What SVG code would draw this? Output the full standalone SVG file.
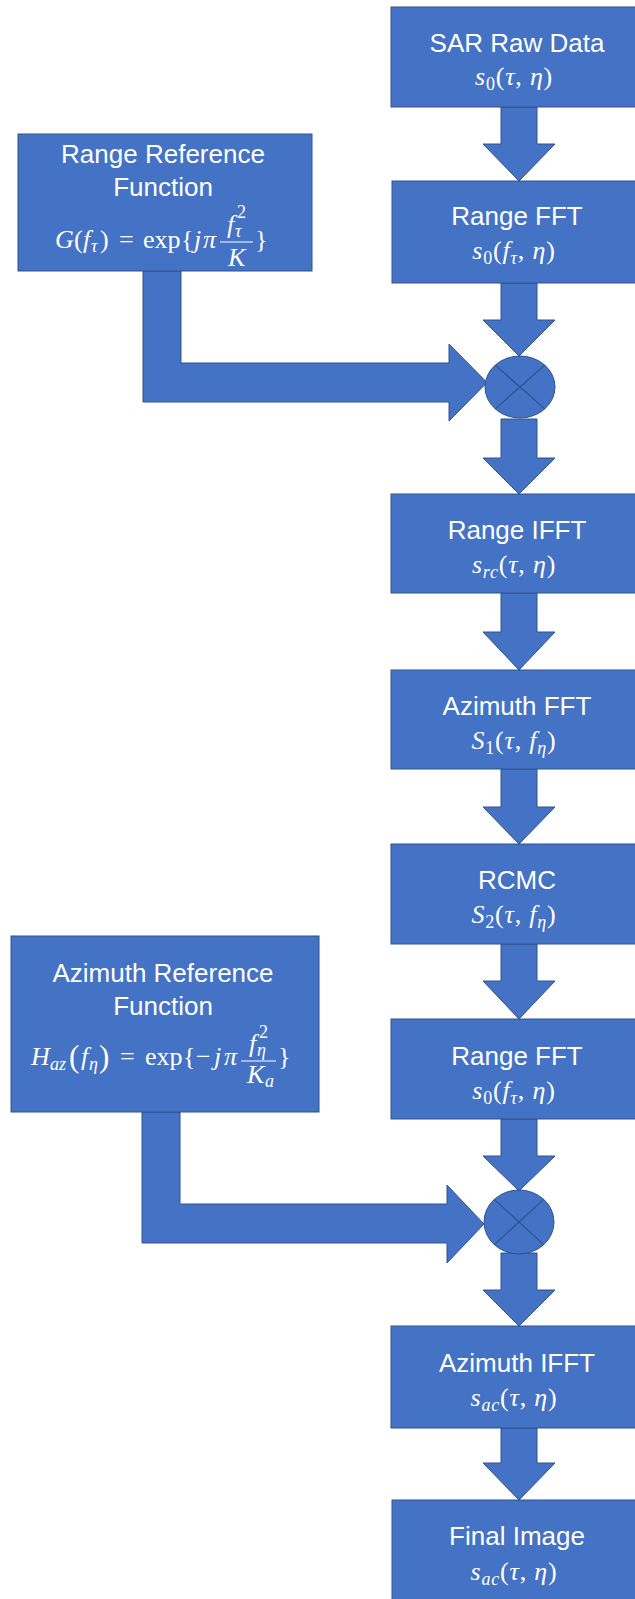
<svg xmlns="http://www.w3.org/2000/svg" width="635" height="1599" viewBox="0 0 635 1599">
  <style>
    .box { fill: #4472C4; stroke: #2F528F; stroke-width: 1; }
    .arrow { fill: #4472C4; stroke: #2F528F; stroke-width: 1; stroke-linejoin: miter; }
    .mix { fill: #4472C4; stroke: #2F528F; stroke-width: 1; }
    .cross { stroke: #2F528F; stroke-width: 1.2; }
    .title { font-family: "Liberation Sans", Arial, sans-serif; font-size: 26px; fill: #FFFFFF; text-anchor: middle; }
    .math { font-family: "Liberation Serif", "Times New Roman", serif; font-size: 26px; letter-spacing: 0.8px; fill: #FFFFFF; text-anchor: middle; }
    .eq { font-family: "Liberation Serif", "Times New Roman", serif; font-size: 26px; fill: #FFFFFF; }
    .it { font-style: italic; }
    .sub { font-size: 18px; }
    .big { font-size: 31px; }
    .bar { stroke: #FFFFFF; stroke-width: 1.2; }
  </style>

  <!-- connectors -->
  <g id="connectors">
    <path class="arrow" d="M501,107 L537,107 L537,144 L555,144 L519,181 L483,144 L501,144 Z"/>
    <path class="arrow" d="M501,283 L537,283 L537,320 L555,320 L519,356 L483,320 L501,320 Z"/>
    <path class="arrow" d="M501,419 L537,419 L537,458 L555,458 L519,494 L483,458 L501,458 Z"/>
    <path class="arrow" d="M501,593 L537,593 L537,632 L555,632 L519,670 L483,632 L501,632 Z"/>
    <path class="arrow" d="M501,769 L537,769 L537,807 L555,807 L519,844 L483,807 L501,807 Z"/>
    <path class="arrow" d="M501,944 L537,944 L537,981 L555,981 L519,1019 L483,981 L501,981 Z"/>
    <path class="arrow" d="M501,1119 L537,1119 L537,1156 L555,1156 L519,1191 L483,1156 L501,1156 Z"/>
    <path class="arrow" d="M501,1253 L537,1253 L537,1290 L555,1290 L519,1326 L483,1290 L501,1290 Z"/>
    <path class="arrow" d="M501,1428 L537,1428 L537,1463 L555,1463 L519,1500 L483,1463 L501,1463 Z"/>
    <!-- reference-function feeds into the mixers -->
    <path class="arrow" d="M143,271 L181,271 L181,363 L449,363 L449,344 L487,382.5 L449,421 L449,402 L143,402 Z"/>
    <path class="arrow" d="M142,1112 L180,1112 L180,1204 L447,1204 L447,1185 L484,1224 L447,1263 L447,1243 L142,1243 Z"/>
  </g>

  <!-- mixers -->
  <g id="mixer1">
    <ellipse class="mix" cx="520" cy="387" rx="35" ry="31"/>
    <line class="cross" x1="495.3" y1="365.1" x2="544.7" y2="408.9"/>
    <line class="cross" x1="544.7" y1="365.1" x2="495.3" y2="408.9"/>
  </g>
  <g id="mixer2">
    <ellipse class="mix" cx="519" cy="1222" rx="35" ry="32"/>
    <line class="cross" x1="494.3" y1="1199.4" x2="543.7" y2="1244.6"/>
    <line class="cross" x1="543.7" y1="1199.4" x2="494.3" y2="1244.6"/>
  </g>

  <!-- processing steps -->
  <g id="sar-raw-data">
    <rect class="box" x="391" y="7" width="252" height="100"/>
    <text class="title" x="517" y="52">SAR Raw Data</text>
    <text class="math" x="514" y="85"><tspan class="it">s</tspan><tspan class="sub" dy="5">0</tspan><tspan dy="-5">(</tspan><tspan class="it">τ</tspan>, <tspan class="it">η</tspan>)</text>
  </g>

  <g id="range-fft">
    <rect class="box" x="392" y="181" width="252" height="102"/>
    <text class="title" x="517" y="225">Range FFT</text>
    <text class="math" x="514" y="259"><tspan class="it">s</tspan><tspan class="sub" dy="5">0</tspan><tspan dy="-5">(</tspan><tspan class="it">f</tspan><tspan class="sub it" dy="5">τ</tspan><tspan dy="-5">, </tspan><tspan class="it">η</tspan>)</text>
  </g>

  <g id="range-reference">
    <rect class="box" x="18" y="134" width="294" height="137"/>
    <text class="title" x="163" y="163">Range Reference</text>
    <text class="title" x="163" y="196">Function</text>
    <text class="eq" y="248"><tspan class="it" x="55">G</tspan><tspan x="74">(</tspan><tspan class="it" x="83">f</tspan><tspan class="sub it" x="91" y="252">τ</tspan><tspan x="100" y="248">)</tspan><tspan x="119">=</tspan><tspan x="143">exp</tspan><tspan x="181">{</tspan><tspan class="it" x="194">j</tspan><tspan class="it" x="203">π</tspan></text>
    <text class="eq" y="233"><tspan class="it" x="227">f</tspan><tspan class="sub it" x="235" y="237">τ</tspan><tspan class="sub" x="237" y="218">2</tspan></text>
    <line class="bar" x1="220" y1="242" x2="253" y2="242"/>
    <text class="eq it" x="228" y="266">K</text>
    <text class="eq" x="255" y="248">}</text>
  </g>

  <g id="range-ifft">
    <rect class="box" x="391" y="494" width="252" height="99"/>
    <text class="title" x="517" y="539">Range IFFT</text>
    <text class="math" x="514" y="573"><tspan class="it">s</tspan><tspan class="sub it" dy="5">rc</tspan><tspan dy="-5">(</tspan><tspan class="it">τ</tspan>, <tspan class="it">η</tspan>)</text>
  </g>

  <g id="azimuth-fft">
    <rect class="box" x="391" y="670" width="252" height="99"/>
    <text class="title" x="517" y="715">Azimuth FFT</text>
    <text class="math" x="514" y="749"><tspan class="it">S</tspan><tspan class="sub" dy="5">1</tspan><tspan dy="-5">(</tspan><tspan class="it">τ</tspan>, <tspan class="it">f</tspan><tspan class="sub it" dy="5">η</tspan><tspan dy="-5">)</tspan></text>
  </g>

  <g id="rcmc">
    <rect class="box" x="391" y="844" width="252" height="100"/>
    <text class="title" x="517" y="889">RCMC</text>
    <text class="math" x="514" y="923"><tspan class="it">S</tspan><tspan class="sub" dy="5">2</tspan><tspan dy="-5">(</tspan><tspan class="it">τ</tspan>, <tspan class="it">f</tspan><tspan class="sub it" dy="5">η</tspan><tspan dy="-5">)</tspan></text>
  </g>

  <g id="range-fft-2">
    <rect class="box" x="391" y="1019" width="252" height="100"/>
    <text class="title" x="517" y="1065">Range FFT</text>
    <text class="math" x="514" y="1099"><tspan class="it">s</tspan><tspan class="sub" dy="5">0</tspan><tspan dy="-5">(</tspan><tspan class="it">f</tspan><tspan class="sub it" dy="5">τ</tspan><tspan dy="-5">, </tspan><tspan class="it">η</tspan>)</text>
  </g>

  <g id="azimuth-reference">
    <rect class="box" x="11" y="936" width="308" height="176"/>
    <text class="title" x="163" y="982">Azimuth Reference</text>
    <text class="title" x="163" y="1015">Function</text>
    <text class="eq" y="1065"><tspan class="it" x="31">H</tspan><tspan class="sub it" x="50" y="1070">az</tspan><tspan class="big" x="69" y="1067">(</tspan><tspan class="it" x="81" y="1065">f</tspan><tspan class="sub it" x="89" y="1070">η</tspan><tspan class="big" x="99" y="1067">)</tspan><tspan x="120" y="1065">=</tspan><tspan x="145">exp</tspan><tspan x="183">{</tspan><tspan x="196">−</tspan><tspan class="it" x="214">j</tspan><tspan class="it" x="224">π</tspan></text>
    <text class="eq" y="1052"><tspan class="it" x="249">f</tspan><tspan class="sub it" x="257" y="1056">η</tspan><tspan class="sub" x="259" y="1038">2</tspan></text>
    <line class="bar" x1="241" y1="1061" x2="276" y2="1061"/>
    <text class="eq" y="1083"><tspan class="it" x="247">K</tspan><tspan class="sub it" x="265" y="1087">a</tspan></text>
    <text class="eq" x="278" y="1065">}</text>
  </g>

  <g id="azimuth-ifft">
    <rect class="box" x="391" y="1326" width="252" height="102"/>
    <text class="title" x="517" y="1372">Azimuth IFFT</text>
    <text class="math" x="514" y="1406"><tspan class="it">s</tspan><tspan class="sub it" dy="5">ac</tspan><tspan dy="-5">(</tspan><tspan class="it">τ</tspan>, <tspan class="it">η</tspan>)</text>
  </g>

  <g id="final-image">
    <rect class="box" x="392" y="1500" width="252" height="110"/>
    <text class="title" x="517" y="1545">Final Image</text>
    <text class="math" x="514" y="1580"><tspan class="it">s</tspan><tspan class="sub it" dy="5">ac</tspan><tspan dy="-5">(</tspan><tspan class="it">τ</tspan>, <tspan class="it">η</tspan>)</text>
  </g>
</svg>
